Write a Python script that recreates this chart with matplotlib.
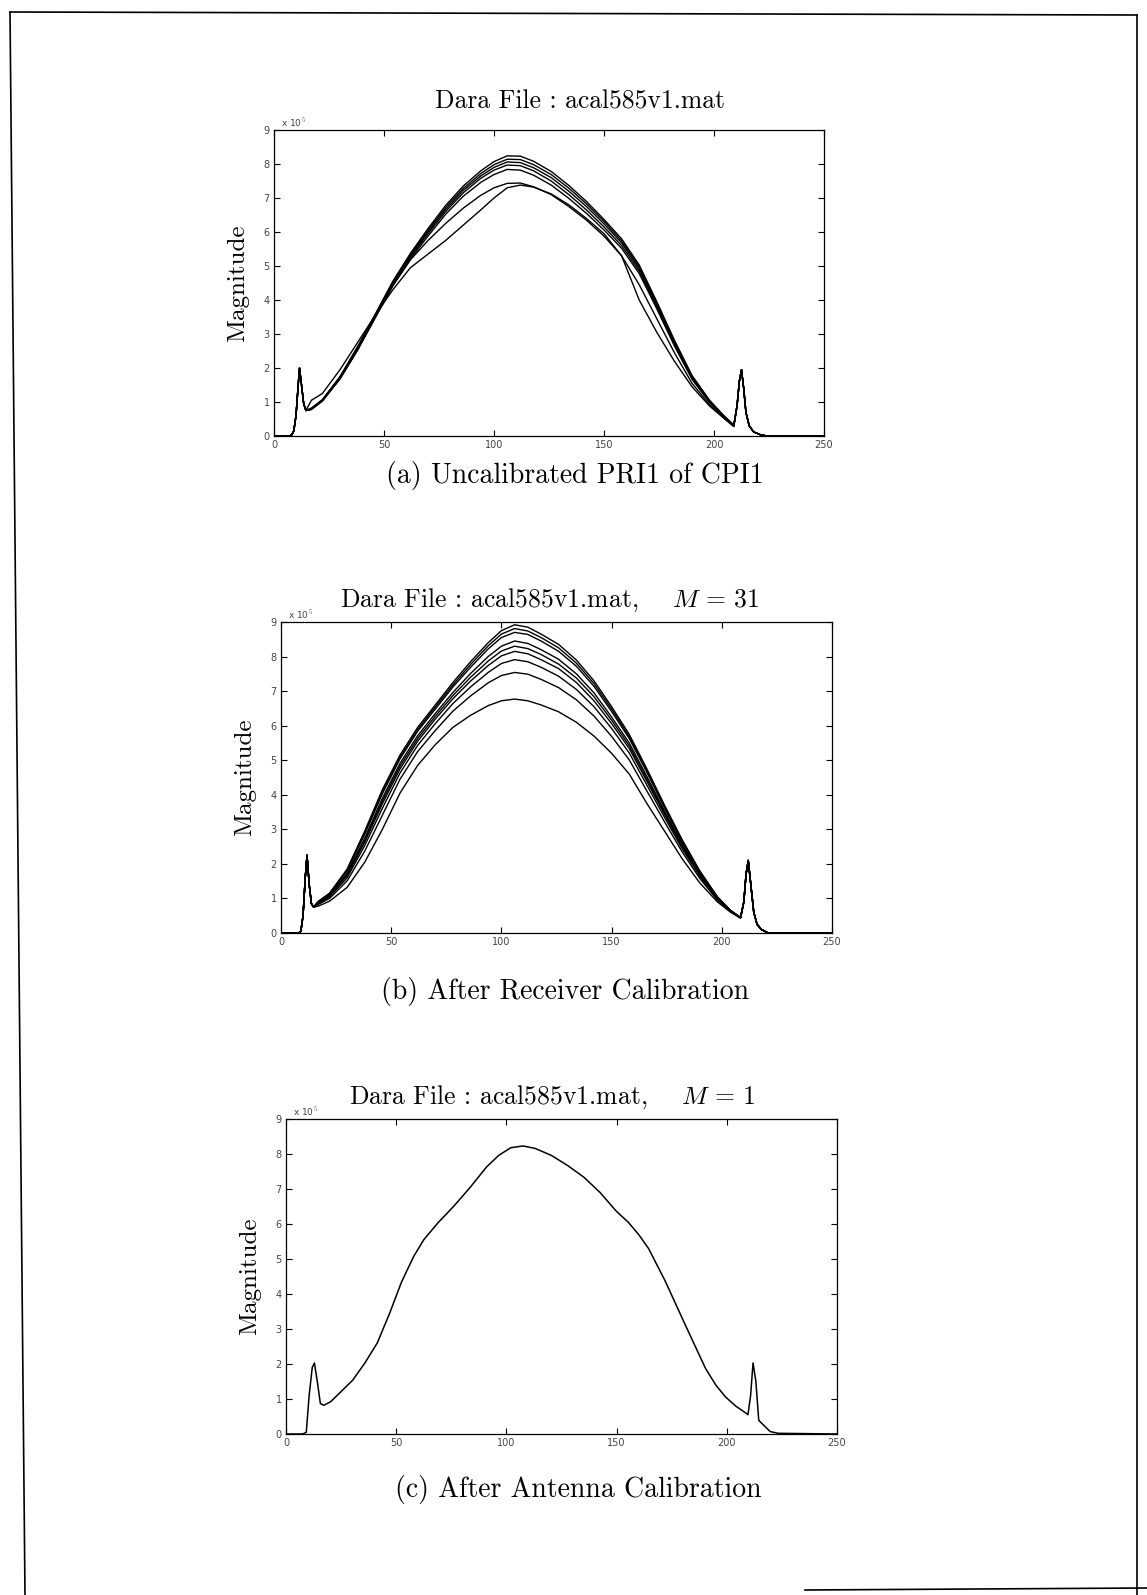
import matplotlib
matplotlib.use("Agg")
import matplotlib.pyplot as plt
from matplotlib.lines import Line2D

plt.rcParams['mathtext.fontset'] = 'cm'

W, H = 1147, 1595

# range bins and magnitudes (units of 1e5)
# (a) uncalibrated, PRI1 of CPI1
x_head_a = [0, 7, 8, 9, 10, 11, 11.6, 12.5, 13.5, 14.5]
head_a = [0, 0, 0.03, 0.15, 0.6, 1.5, 2.0, 1.5, 0.95, 0.75]
x_body_a = [17, 22, 30, 38, 46, 54, 62, 70, 78, 86, 94, 100, 106, 112, 118, 126, 134, 142, 150, 158, 166, 174, 182, 190, 198, 204, 209]
x_tail_a = [210.5, 211.5, 212.5, 213.5, 214.5, 216, 218, 221, 224, 250]
tail_a = [0.9, 1.6, 1.95, 1.4, 0.7, 0.3, 0.12, 0.04, 0, 0]
a1 = [0.82, 1.07, 1.75, 2.63, 3.58, 4.55, 5.37, 6.1, 6.78, 7.35, 7.8, 8.07, 8.24, 8.23, 8.08, 7.78, 7.37, 6.9, 6.37, 5.8, 5.03, 3.95, 2.82, 1.78, 1.05, 0.63, 0.32]
a2 = [0.81, 1.06, 1.73, 2.6, 3.55, 4.52, 5.33, 6.05, 6.72, 7.28, 7.72, 7.98, 8.14, 8.13, 7.98, 7.69, 7.29, 6.83, 6.31, 5.74, 4.98, 3.9, 2.78, 1.76, 1.03, 0.62, 0.31]
a3 = [0.8, 1.05, 1.72, 2.58, 3.52, 4.48, 5.29, 6.0, 6.66, 7.22, 7.65, 7.9, 8.06, 8.04, 7.89, 7.6, 7.2, 6.75, 6.24, 5.68, 4.92, 3.85, 2.74, 1.73, 1.02, 0.61, 0.3]
a4 = [0.8, 1.05, 1.7, 2.55, 3.5, 4.45, 5.25, 5.95, 6.6, 7.15, 7.58, 7.82, 7.97, 7.95, 7.8, 7.5, 7.1, 6.65, 6.15, 5.6, 4.85, 3.8, 2.7, 1.7, 1.0, 0.6, 0.3]
a5 = [0.78, 1.03, 1.68, 2.53, 3.48, 4.42, 5.2, 5.88, 6.52, 7.05, 7.46, 7.69, 7.84, 7.82, 7.67, 7.38, 6.99, 6.55, 6.06, 5.52, 4.78, 3.74, 2.65, 1.67, 0.98, 0.59, 0.29]
a6 = [0.78, 1.03, 1.68, 2.53, 3.48, 4.42, 5.18, 5.75, 6.25, 6.7, 7.08, 7.3, 7.43, 7.44, 7.33, 7.1, 6.75, 6.35, 5.88, 5.3, 4.45, 3.45, 2.45, 1.55, 0.92, 0.56, 0.28]
a7 = [1.05, 1.25, 1.95, 2.75, 3.55, 4.3, 4.95, 5.35, 5.75, 6.2, 6.65, 7.0, 7.3, 7.38, 7.32, 7.12, 6.8, 6.4, 5.95, 5.3, 4.0, 3.05, 2.2, 1.45, 0.88, 0.55, 0.28]

# (b) after receiver calibration, M = 31
x_head_b = [0, 8, 9, 10, 11, 11.8, 12.8, 13.8, 14.8]
head_b = [0, 0, 0.05, 0.5, 1.6, 2.25, 1.4, 0.85, 0.75]
x_body_b = [17, 22, 30, 38, 46, 54, 62, 70, 78, 86, 94, 100, 106, 112, 118, 126, 134, 142, 150, 158, 166, 174, 182, 190, 198, 204, 208.5]
x_tail_b = [210, 211, 212, 213, 214.5, 216, 218, 221, 250]
tail_b = [0.9, 1.7, 2.1, 1.5, 0.6, 0.25, 0.1, 0, 0]
b1 = [0.92, 1.15, 1.85, 2.95, 4.15, 5.15, 5.95, 6.6, 7.25, 7.85, 8.4, 8.75, 8.92, 8.85, 8.65, 8.35, 7.9, 7.3, 6.55, 5.75, 4.75, 3.7, 2.7, 1.8, 1.05, 0.65, 0.45]
b2 = [0.91, 1.14, 1.82, 2.9, 4.09, 5.09, 5.89, 6.54, 7.18, 7.77, 8.31, 8.65, 8.81, 8.74, 8.55, 8.25, 7.81, 7.22, 6.48, 5.69, 4.7, 3.66, 2.67, 1.78, 1.04, 0.65, 0.45]
b3 = [0.91, 1.13, 1.8, 2.86, 4.03, 5.04, 5.84, 6.48, 7.12, 7.69, 8.22, 8.55, 8.7, 8.64, 8.45, 8.15, 7.72, 7.14, 6.41, 5.63, 4.65, 3.62, 2.64, 1.76, 1.03, 0.64, 0.45]
b4 = [0.89, 1.1, 1.73, 2.75, 3.9, 4.91, 5.71, 6.35, 6.96, 7.51, 8.0, 8.3, 8.45, 8.38, 8.2, 7.92, 7.5, 6.95, 6.25, 5.5, 4.53, 3.53, 2.58, 1.72, 1.02, 0.64, 0.45]
b5 = [0.88, 1.08, 1.7, 2.69, 3.82, 4.83, 5.63, 6.27, 6.87, 7.4, 7.87, 8.16, 8.3, 8.23, 8.06, 7.78, 7.38, 6.84, 6.16, 5.42, 4.46, 3.48, 2.54, 1.7, 1.01, 0.64, 0.44]
b6 = [0.87, 1.07, 1.66, 2.63, 3.74, 4.75, 5.55, 6.19, 6.78, 7.29, 7.74, 8.02, 8.15, 8.08, 7.91, 7.65, 7.25, 6.72, 6.06, 5.34, 4.39, 3.43, 2.5, 1.67, 1.0, 0.63, 0.44]
b7 = [0.85, 1.04, 1.6, 2.53, 3.61, 4.63, 5.43, 6.06, 6.64, 7.12, 7.54, 7.8, 7.91, 7.85, 7.69, 7.43, 7.05, 6.55, 5.92, 5.21, 4.28, 3.35, 2.44, 1.64, 0.98, 0.63, 0.44]
b8 = [0.83, 1.0, 1.51, 2.37, 3.41, 4.45, 5.25, 5.86, 6.42, 6.86, 7.24, 7.45, 7.54, 7.49, 7.34, 7.1, 6.75, 6.28, 5.69, 5.01, 4.11, 3.22, 2.35, 1.58, 0.95, 0.62, 0.44]
b9 = [0.78, 0.92, 1.32, 2.05, 3.0, 4.05, 4.85, 5.45, 5.95, 6.3, 6.58, 6.72, 6.77, 6.72, 6.6, 6.4, 6.1, 5.7, 5.2, 4.6, 3.75, 2.95, 2.15, 1.45, 0.9, 0.6, 0.43]

# (c) after antenna calibration, M = 1
x_c = [0, 7, 8, 9.2, 10.5, 11.9, 12.9, 14.2, 15.6, 17.1, 20.2, 24.8, 30.3, 35.8, 41.4, 46.9, 52.4, 57.9, 62.5,
       68.9, 76.3, 83.6, 91, 96.5, 102, 107.5, 113, 120.4, 127.8, 135.1, 142.5, 149.8, 155.3, 160, 164.5,
       171.9, 181, 186.6, 190.3, 195, 199.4, 204, 208.6, 209.6, 210.8, 211.9, 213.2, 214.5, 216.9, 219.7,
       223.3, 250]
y_c = [0, 0, 0.01, 0.05, 1.1, 1.9, 2.03, 1.5, 0.87, 0.82, 0.92, 1.2, 1.54, 2.03, 2.6, 3.43, 4.34, 5.07, 5.55,
       6.03, 6.52, 7.05, 7.63, 7.96, 8.18, 8.23, 8.16, 7.96, 7.67, 7.34, 6.9, 6.37, 6.05, 5.7, 5.3,
       4.39, 3.14, 2.38, 1.88, 1.4, 1.06, 0.8, 0.6, 0.55, 1.1, 2.03, 1.5, 0.39, 0.24, 0.07,
       0.02, 0]

x_ticks = [0, 50, 100, 150, 200, 250]
y_ticks = [0, 1, 2, 3, 4, 5, 6, 7, 8, 9]

titles = ["Dara File : acal585v1.mat",
          r"Dara File : acal585v1.mat,    $M\,=\,31$",
          r"Dara File : acal585v1.mat,    $M\,=\,1$"]
captions = ["(a) Uncalibrated PRI1 of CPI1",
            "(b) After Receiver Calibration",
            "(c) After Antenna Calibration"]

serif = 'cmr10'


def make_axes(fig, left, top, right, bottom):
    # pixel box -> figure fractions
    return fig.add_axes([left / W, 1 - bottom / H, (right - left) / W, (bottom - top) / H])


def style_axes(ax):
    ax.set_xlim(0, 250)
    ax.set_ylim(0, 9)
    ax.set_xticks(x_ticks)
    ax.set_yticks(y_ticks)
    ax.tick_params(direction='in', top=True, right=True, length=4, width=0.8,
                   labelsize=7, labelcolor='#444444', pad=3)
    for lab in ax.get_xticklabels() + ax.get_yticklabels():
        lab.set_family('DejaVu Sans')
    for s in ax.spines.values():
        s.set_linewidth(0.9)
    ax.text(0.012, 1.004, r"x 10$^5$", transform=ax.transAxes, fontsize=6.5,
            color='#444444', ha='left', va='bottom', family='DejaVu Sans')
    ax.set_ylabel("Magnitude", fontsize=18, family=serif)
    ax.yaxis.set_label_coords(-0.045, 0.5)


def plot_bundle(ax, xh, yh, xb, bodies, xt, yt):
    for body in bodies:
        ax.plot(xh + xb + xt, yh + body + yt, color='black', linewidth=1.0)


fig = plt.figure(figsize=(W / 100, H / 100), dpi=100)

ax_a = make_axes(fig, 274, 130, 824, 436)
plot_bundle(ax_a, x_head_a, head_a, x_body_a, [a1, a2, a3, a4, a5, a6, a7], x_tail_a, tail_a)
style_axes(ax_a)

ax_b = make_axes(fig, 281, 622, 832, 933)
plot_bundle(ax_b, x_head_b, head_b, x_body_b, [b1, b2, b3, b4, b5, b6, b7, b8, b9], x_tail_b, tail_b)
style_axes(ax_b)

ax_c = make_axes(fig, 286, 1119, 837, 1434)
ax_c.plot(x_c, y_c, color='black', linewidth=1.1)
style_axes(ax_c)

# titles above each plot and captions below
for (cx, cy), t in zip([(580, 102), (550, 600), (552, 1097)], titles):
    fig.text(cx / W, 1 - cy / H, t, ha='center', va='center', fontsize=18.5, family=serif)
for (cx, cy), t in zip([(575, 476), (565, 991), (578, 1490)], captions):
    fig.text(cx / W, 1 - cy / H, t, ha='center', va='center', fontsize=20, family=serif)

# scanned page border
for (x0, y0), (x1, y1) in [((10, 12), (25, 1595)), ((10, 12), (1137, 15)),
                           ((1137, 15), (1137, 1595)), ((805, 1590), (1147, 1588))]:
    fig.add_artist(Line2D([x0 / W, x1 / W], [1 - y0 / H, 1 - y1 / H], color='black', linewidth=1.2))

fig.savefig("out.png", dpi=100)
